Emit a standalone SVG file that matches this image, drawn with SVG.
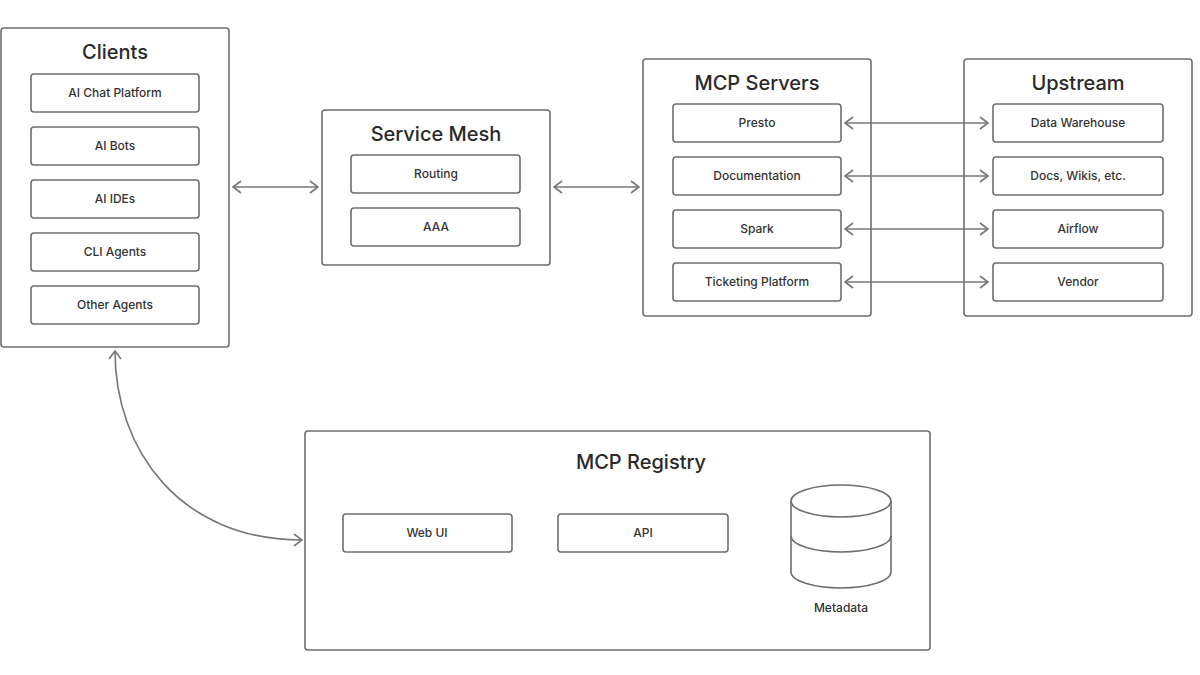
<svg xmlns="http://www.w3.org/2000/svg" width="1200" height="675" viewBox="0 0 1200 675">
<style>
.box{fill:#fff;stroke:#6e6e6e;stroke-width:1.6}
.item{fill:#fff;stroke:#6e6e6e;stroke-width:1.6}
.title{font-family:Inter,"Liberation Sans",sans-serif;font-size:20px;font-weight:500;fill:#2a2a2a;text-anchor:middle}
.lbl{font-family:Inter,"Liberation Sans",sans-serif;font-size:12px;font-weight:500;fill:#333;text-anchor:middle}
.conn{fill:none;stroke:#777;stroke-width:1.6;marker-start:url(#ah);marker-end:url(#ah)}
</style>
<defs>
<marker id="ah" viewBox="0 0 14 14" refX="13" refY="7" markerWidth="14" markerHeight="14" markerUnits="userSpaceOnUse" orient="auto-start-reverse">
<path d="M5,1 L13,7 L5,13" fill="none" stroke="#777" stroke-width="1.6"/>
</marker>
</defs>
<rect width="1200" height="675" fill="#fff"/>
<g id="clients">
<rect class="box" x="1" y="28" width="228" height="319" rx="3"/>
<text class="title" x="115" y="59">Clients</text>
<rect class="item" x="31" y="74" width="168" height="38" rx="3"/><text class="lbl" x="115" y="97">AI Chat Platform</text>
<rect class="item" x="31" y="127" width="168" height="38" rx="3"/><text class="lbl" x="115" y="150">AI Bots</text>
<rect class="item" x="31" y="180" width="168" height="38" rx="3"/><text class="lbl" x="115" y="203">AI IDEs</text>
<rect class="item" x="31" y="233" width="168" height="38" rx="3"/><text class="lbl" x="115" y="256">CLI Agents</text>
<rect class="item" x="31" y="286" width="168" height="38" rx="3"/><text class="lbl" x="115" y="309">Other Agents</text>
</g>
<g id="service-mesh">
<rect class="box" x="322" y="110" width="228" height="155" rx="3"/>
<text class="title" x="436" y="141">Service Mesh</text>
<rect class="item" x="351" y="155" width="169" height="38" rx="3"/><text class="lbl" x="436" y="178">Routing</text>
<rect class="item" x="351" y="208" width="169" height="38" rx="3"/><text class="lbl" x="436" y="231">AAA</text>
</g>
<g id="mcp-servers">
<rect class="box" x="643" y="59" width="228" height="257" rx="3"/>
<text class="title" x="757" y="90">MCP Servers</text>
<rect class="item" x="673" y="104" width="168" height="38" rx="3"/><text class="lbl" x="757" y="127">Presto</text>
<rect class="item" x="673" y="157" width="168" height="38" rx="3"/><text class="lbl" x="757" y="180">Documentation</text>
<rect class="item" x="673" y="210" width="168" height="38" rx="3"/><text class="lbl" x="757" y="233">Spark</text>
<rect class="item" x="673" y="263" width="168" height="38" rx="3"/><text class="lbl" x="757" y="286">Ticketing Platform</text>
</g>
<g id="upstream">
<rect class="box" x="964" y="59" width="228" height="257" rx="3"/>
<text class="title" x="1078" y="90">Upstream</text>
<rect class="item" x="993" y="104" width="170" height="38" rx="3"/><text class="lbl" x="1078" y="127">Data Warehouse</text>
<rect class="item" x="993" y="157" width="170" height="38" rx="3"/><text class="lbl" x="1078" y="180">Docs, Wikis, etc.</text>
<rect class="item" x="993" y="210" width="170" height="38" rx="3"/><text class="lbl" x="1078" y="233">Airflow</text>
<rect class="item" x="993" y="263" width="170" height="38" rx="3"/><text class="lbl" x="1078" y="286">Vendor</text>
</g>
<g id="mcp-registry">
<rect class="box" x="305" y="431" width="625" height="219" rx="3"/>
<text class="title" x="641" y="469">MCP Registry</text>
<rect class="item" x="343" y="514" width="169" height="38" rx="3"/><text class="lbl" x="427" y="537">Web UI</text>
<rect class="item" x="558" y="514" width="170" height="38" rx="3"/><text class="lbl" x="643" y="537">API</text>
<g id="metadata">
<path class="item" d="M791,501 L791,572 A50,16 0 0 0 891,572 L891,501"/>
<ellipse class="item" cx="841" cy="501" rx="50" ry="16"/>
<path class="item" d="M791,536 A50,16 0 0 0 891,536" fill="none"/>
<text class="lbl" x="841" y="612">Metadata</text>
</g>
</g>
<g id="connectors">
<path class="conn" d="M233,187 L318,187"/>
<path class="conn" d="M554,187 L639,187"/>
<path class="conn" d="M845,123 L988,123"/>
<path class="conn" d="M845,176 L988,176"/>
<path class="conn" d="M845,229 L988,229"/>
<path class="conn" d="M845,282 L988,282"/>
<path class="conn" d="M115,351 C115,450 180,540 302,540"/>
</g>
</svg>
